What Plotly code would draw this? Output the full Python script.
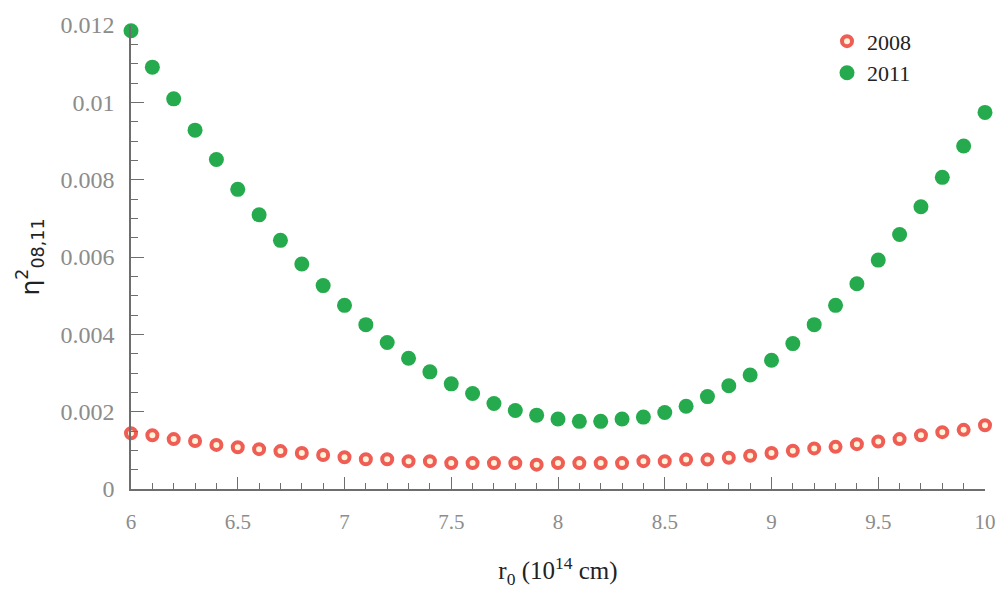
import plotly.graph_objects as go

r0 = [round(6.0 + 0.1 * i, 1) for i in range(41)]

eta_2008 = [0.00144, 0.00139, 0.00129, 0.00124, 0.00114, 0.00108, 0.00103, 0.00098, 0.00093, 0.00088,
             0.00082, 0.00077, 0.00077, 0.00072, 0.00072, 0.00067, 0.00067, 0.00067, 0.00067, 0.00063,
             0.00067, 0.00067, 0.00067, 0.00067, 0.00072, 0.00072, 0.00076, 0.00076, 0.00081, 0.00086,
             0.00093, 0.00099, 0.00105, 0.00109, 0.00116, 0.00123, 0.00129, 0.00139, 0.00147, 0.00153,
             0.00165]

eta_2011 = [0.01185, 0.01091, 0.01009, 0.00928, 0.00852, 0.00775, 0.00709, 0.00643, 0.00582, 0.00526,
             0.00475, 0.00425, 0.00379, 0.00338, 0.00303, 0.00272, 0.00247, 0.00221, 0.00203, 0.00191,
             0.00181, 0.00175, 0.00175, 0.00181, 0.00186, 0.00198, 0.00214, 0.00239, 0.00267, 0.00295,
             0.00333, 0.00376, 0.00425, 0.00475, 0.00531, 0.00592, 0.00658, 0.00730, 0.00806, 0.00887,
             0.00974]

x_ticks = [6, 6.5, 7, 7.5, 8, 8.5, 9, 9.5, 10]
x_tick_labels = ["6", "6.5", "7", "7.5", "8", "8.5", "9", "9.5", "10"]
y_ticks = [0, 0.002, 0.004, 0.006, 0.008, 0.01, 0.012]
y_tick_labels = ["0", "0.002", "0.004", "0.006", "0.008", "0.01", "0.012"]

serif = "Liberation Serif, Times New Roman, serif"
axis_col = "#6e6e6e"
label_col = "#8c8c8c"

fig = go.Figure()
fig.add_trace(go.Scatter(
    x=r0, y=eta_2008, mode="markers", name="2008",
    marker=dict(symbol="circle", size=10, color="#fff4d8",
                line=dict(color="#ef5d55", width=4)),
    cliponaxis=False,
))
fig.add_trace(go.Scatter(
    x=r0, y=eta_2011, mode="markers", name="2011",
    marker=dict(symbol="circle", size=15, color="#25ab4d",
                line=dict(color="#25ab4d", width=0)),
    cliponaxis=False,
))

fig.update_layout(
    width=1008, height=593,
    margin=dict(l=131, r=19, t=17, b=104),
    paper_bgcolor="white", plot_bgcolor="white",
    showlegend=True,
    legend=dict(x=0.815, y=1.01, xanchor="left", yanchor="top",
                font=dict(family=serif, size=22, color="#222"),
                bgcolor="rgba(0,0,0,0)", tracegroupgap=0, itemwidth=30),
    xaxis=dict(
        range=[6, 10], showgrid=False, zeroline=False,
        showline=True, linecolor=axis_col, linewidth=1.5,
        ticks="inside", ticklen=12, tickwidth=1.3, tickcolor=axis_col,
        tickvals=x_ticks, ticktext=x_tick_labels,
        tickfont=dict(family=serif, size=21, color=label_col),
        ticklabelstandoff=13,
        minor=dict(ticks="inside", ticklen=6, dtick=0.1, tickwidth=1.1, tickcolor=axis_col, showgrid=False),
        title=dict(text="r<sub>0</sub> (10<sup>14</sup> cm)",
                   font=dict(family=serif, size=25, color="#222"), standoff=29),
    ),
    yaxis=dict(
        range=[0, 0.012], showgrid=False, zeroline=False,
        showline=True, linecolor=axis_col, linewidth=1.5,
        ticks="inside", ticklen=13, tickwidth=1.3, tickcolor=axis_col,
        tickvals=y_ticks, ticktext=y_tick_labels,
        tickfont=dict(family=serif, size=24, color=label_col),
        ticklabelstandoff=10,
        minor=dict(ticks="inside", ticklen=7, dtick=0.0005, tickwidth=1.1, tickcolor=axis_col, showgrid=False),
        title=dict(text="η<sup>2</sup><sub>08,11</sub>",
                   font=dict(family="DejaVu Sans, Arial, sans-serif", size=25, color="#222"), standoff=14),
    ),
)

fig.write_html("out.html")
